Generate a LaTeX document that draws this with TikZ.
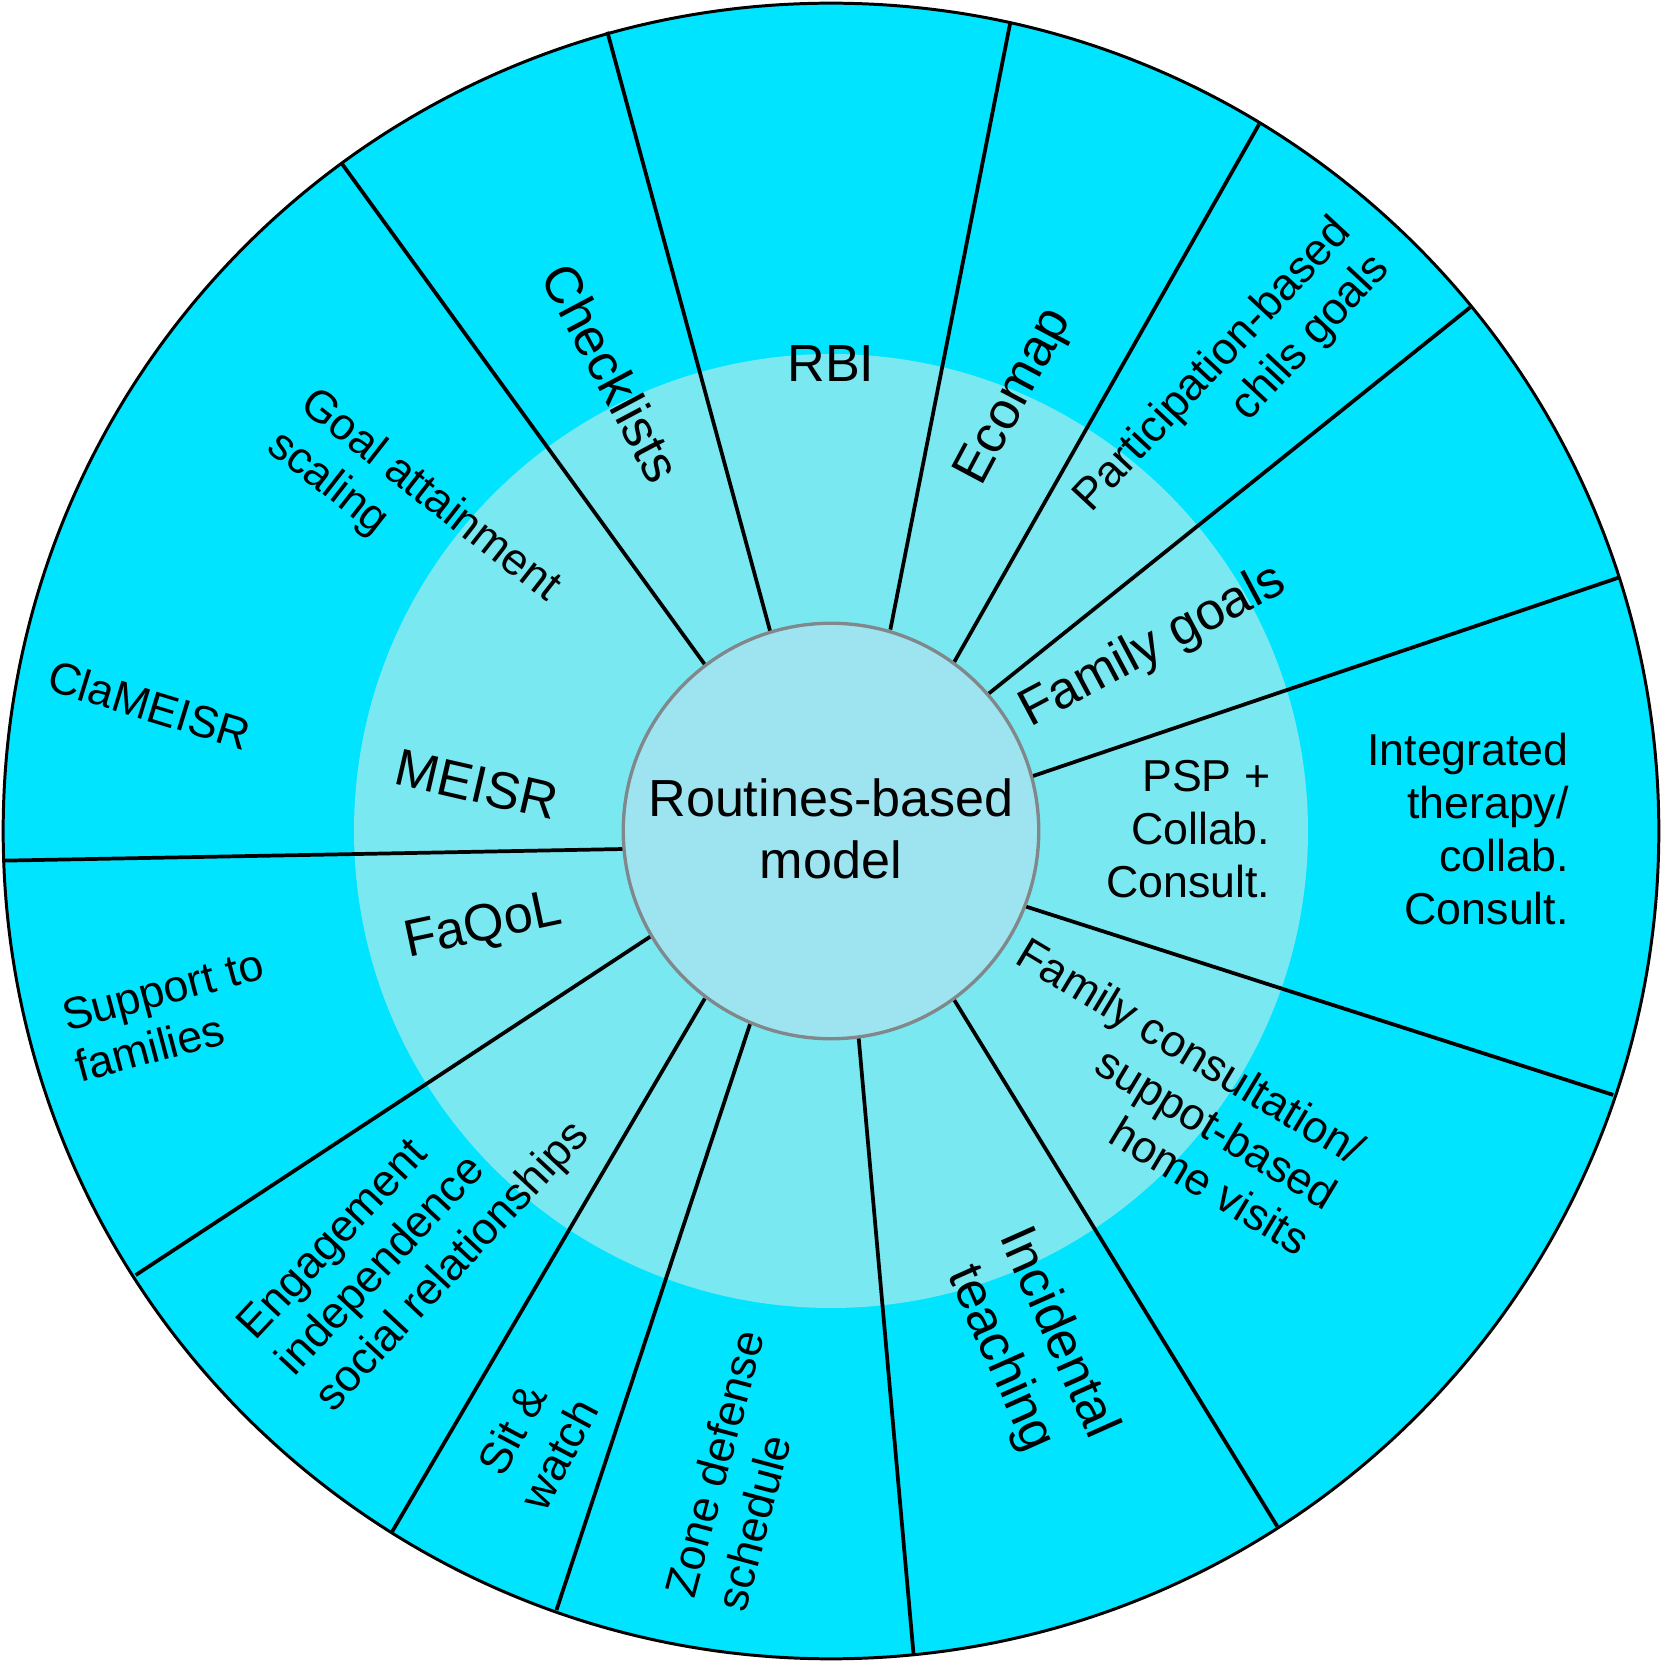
\documentclass[tikz,border=0pt]{standalone}
\usepackage{fontspec}
\setmainfont{Liberation Sans}
\definecolor{outercyan}{RGB}{0,228,255}
\definecolor{ringcyan}{RGB}{122,232,240}
\definecolor{hubcyan}{RGB}{158,228,240}
\definecolor{hubrim}{RGB}{128,136,140}
\tikzset{
  biglabel/.style={font=\fontsize{14}{16.8}\selectfont, inner sep=0pt},
  smalllabel/.style={font=\fontsize{12}{14.2}\selectfont, inner sep=0pt},
  spoke/.style={line width=1pt},
}
\begin{document}
\begin{tikzpicture}[x=1cm, y=1cm]
\useasboundingbox (-7.84,-7.84) rectangle (7.84,7.84);

\fill [outercyan] (0,0) circle (7.81);
\fill [ringcyan] (0,0) circle (4.50);

\draw [spoke] (-0.57,1.87) -- (-2.11,7.54);
\draw [spoke] (0.56,1.90) -- (1.69,7.62);
\draw [spoke] (1.16,1.59) -- (4.04,6.67);
\draw [spoke] (1.48,1.29) -- (6.03,4.94);
\draw [spoke] (1.88,0.51) -- (7.43,2.39);
\draw [spoke] (1.83,-0.71) -- (7.38,-2.49);
\draw [spoke] (1.16,-1.59) -- (4.21,-6.56);
\draw [spoke] (0.26,-1.94) -- (0.78,-7.78);
\draw [spoke] (-0.76,-1.81) -- (-2.59,-7.35);
\draw [spoke] (-1.19,-1.58) -- (-4.14,-6.61);
\draw [spoke] (-1.68,-0.98) -- (-6.56,-4.19);
\draw [spoke] (-1.96,-0.17) -- (-7.82,-0.28);
\draw [spoke] (-1.19,1.57) -- (-4.61,6.29);

\draw [line width=0.8pt] (0,0) circle (7.81);
\draw [fill=hubcyan, draw=hubrim, line width=0.9pt] (0,0) circle (1.96);

\node [biglabel, align=center] (hub) at (0,0.02) {Routines-based\\model};

\node [biglabel] (rbi) at (0,4.41) {RBI};
\node [biglabel, rotate=-62] (checklists) at (-2.07,4.32) {Checklists};
\node [biglabel, rotate=62] (ecomap) at (1.74,4.09) {Ecomap};
\node [smalllabel, rotate=47, align=right] (childgoals) at (3.79,4.22) {Participation-based\\chils goals};
\node [biglabel, rotate=28] (familygoals) at (3.04,1.74) {Family goals};
\node [smalllabel, align=right] (psp) at (3.37,0.02) {PSP +\\Collab.\\Consult.};
\node [smalllabel, align=right] (integrated) at (6.01,0.02) {Integrated\\therapy/\\collab.\\Consult.};
\node [smalllabel, rotate=-31, align=right] (homevisits) at (3.14,-2.50) {Family consultation/\\suppot-based\\home visits};
\node [biglabel, rotate=-66, align=center] (incidental) at (1.86,-4.86) {Incidental\\teaching};
\node [smalllabel, rotate=75, align=left] (zonedefense) at (-0.86,-6.03) {Zone defense\\schedule};
\node [smalllabel, rotate=62, align=center] (sitwatch) at (-2.79,-5.76) {Sit \&\\watch};
\node [smalllabel, rotate=47, align=left] (engagement) at (-3.92,-3.78) {Engagement\\independence\\social relationships};
\node [smalllabel, rotate=15, align=left] (support) at (-6.24,-1.74) {Support to\\families};
\node [biglabel, rotate=12] (faqol) at (-3.28,-0.91) {FaQoL};
\node [biglabel, rotate=-13] (meisr) at (-3.34,0.44) {MEISR};
\node [smalllabel, rotate=-17] (clameisr) at (-6.43,1.19) {ClaMEISR};
\node [smalllabel, rotate=-38, align=left] (gas) at (-3.94,2.96) {Goal attainment\\scaling};

\end{tikzpicture}
\end{document}
